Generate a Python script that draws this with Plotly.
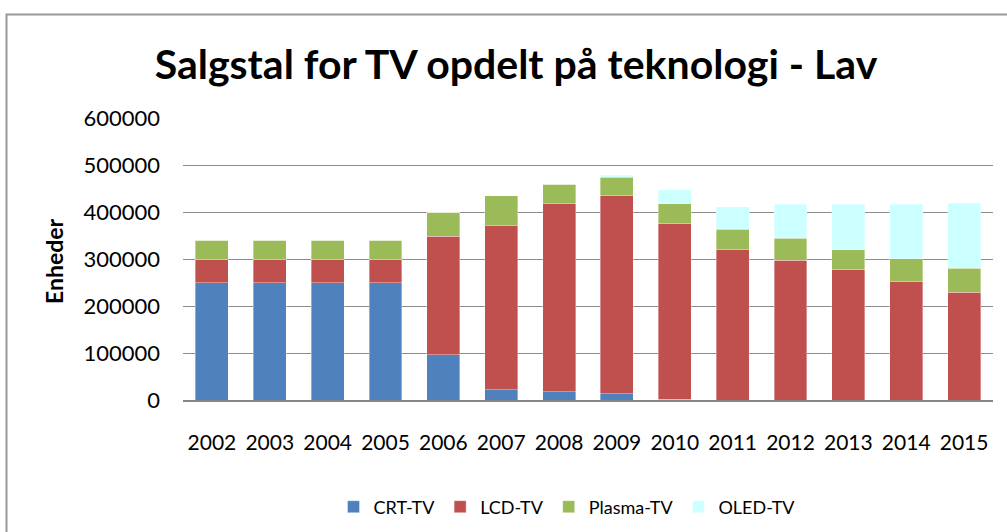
import plotly.graph_objects as go

# Salgstal (enheder) pr. år og teknologi - scenarie "Lav"
years = ['2002', '2003', '2004', '2005', '2006', '2007', '2008',
         '2009', '2010', '2011', '2012', '2013', '2014', '2015']
crt_tv = [250000, 250000, 250000, 250000, 96000, 22000, 18000,
          13000, 2000, 0, 0, 0, 0, 0]
lcd_tv = [48000, 48000, 48000, 48000, 252000, 350000, 401000,
          422000, 373000, 320000, 297000, 277000, 253000, 229000]
plasma_tv = [42000, 42000, 42000, 42000, 52000, 63000, 40000,
             39000, 43000, 43000, 47000, 43000, 48000, 51000]
oled_tv = [0, 0, 0, 0, 0, 0, 0,
           4000, 29000, 48000, 72000, 96000, 115000, 139000]
y_ticks = [0, 100000, 200000, 300000, 400000, 500000, 600000]

series = [
    ('CRT-TV', crt_tv, '#4F81BD'),
    ('LCD-TV', lcd_tv, '#C0504D'),
    ('Plasma-TV', plasma_tv, '#9BBB59'),
    ('OLED-TV', oled_tv, '#CCFFFF'),
]

FONT = 'Lato'
W, H = 1007, 532
ML, MR, MT, MB = 183, 14, 118, 132
PW, PH = W - ML - MR, H - MT - MB


def px_x(x):
    # page pixel -> paper fraction
    return (x - ML) / PW


def px_y(y):
    return (H - MB - y) / PH


fig = go.Figure()

for name, values, color in series:
    fig.add_trace(go.Bar(
        name=name,
        x=years,
        y=values,
        marker=dict(color=color, line=dict(color='rgba(255,255,255,0.45)', width=0.8)),
    ))

fig.update_layout(
    barmode='stack',
    bargap=0.43,
    width=W,
    height=H,
    # fixed margins: don't let the legend below the plot shrink it
    margin=dict(l=ML, r=MR, t=MT, b=MB, autoexpand=False),
    plot_bgcolor='white',
    paper_bgcolor='white',
    font=dict(family=FONT, color='#000000'),
    title=dict(
        text='<b>Salgstal for TV opdelt på teknologi - Lav</b>',
        x=516 / W, xref='container', xanchor='center',
        y=1 - 65 / H, yref='container', yanchor='middle',
        font=dict(size=41, family=FONT, color='#000000'),
    ),
    xaxis=dict(
        type='category',
        automargin=False,
        showgrid=False,
        showline=True,
        linecolor='#868686',
        linewidth=2,
        ticks='',
        ticklabelstandoff=23,
        tickfont=dict(size=21, family=FONT, color='#000000'),
    ),
    yaxis=dict(
        range=[0, 600000],
        automargin=False,
        tickvals=y_ticks,
        tickformat='d',
        showgrid=True,
        gridcolor='#8C8C8C',
        gridwidth=1.4,
        zeroline=False,
        showline=False,
        ticks='',
        ticklabelstandoff=22,
        tickfont=dict(size=22, family=FONT, color='#000000'),
    ),
    legend=dict(
        orientation='h',
        traceorder='normal',
        x=px_x(567), xanchor='center',
        y=px_y(507), yanchor='middle',
        font=dict(size=18, family=FONT, color='#000000'),
        bgcolor='rgba(0,0,0,0)',
    ),
    showlegend=True,
)

# y-axis title
fig.add_annotation(
    text='<b>Enheder</b>',
    xref='paper', yref='paper',
    x=px_x(54), y=px_y(261),
    xanchor='center', yanchor='middle',
    textangle=-90,
    showarrow=False,
    font=dict(size=23, family=FONT, color='#000000'),
)

# chart area border (runs off the right and bottom of the picture)
fig.add_shape(
    type='rect', xref='paper', yref='paper',
    x0=px_x(6.5), x1=px_x(W + 20),
    y0=px_y(H + 20), y1=px_y(14.5),
    line=dict(color='#9A9A9A', width=2),
    fillcolor='rgba(0,0,0,0)',
    layer='below',
)

# drop the default page margin so the figure sits at the top-left corner
fig.write_html('out.html', config={'displayModeBar': False},
               post_script="document.body.style.margin='0';")
